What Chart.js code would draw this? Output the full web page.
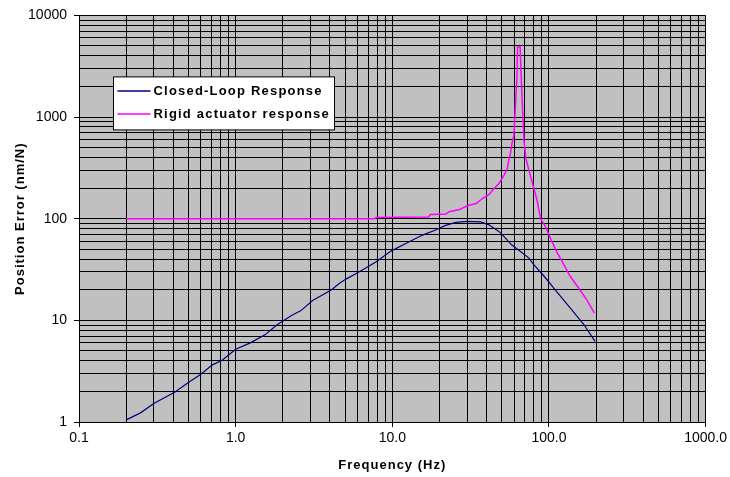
<!DOCTYPE html>
<html>
<head>
<meta charset="utf-8">
<script src="https://cdn.jsdelivr.net/npm/chart.js@4.4.1/dist/chart.umd.min.js"></script>
<style>
  html, body { margin: 0; padding: 0; background: #ffffff; }
  #wrap { width: 730px; height: 477px; }
</style>
</head>
<body>
<div id="wrap"><canvas id="c" width="730" height="477"></canvas></div>
<script>
// ---------------- data ----------------
const seriesNames = ['Closed-Loop Response', 'Rigid actuator response'];

const closedLoopFreq = [0.2, 0.247, 0.3, 0.41, 0.51, 0.6, 0.71, 0.82, 1.0, 1.24, 1.54, 1.83, 2.3, 2.6, 3.1, 4.1, 4.6, 5.1, 6.2, 7.9, 9.8, 12.2, 15.6, 18.9, 21.9, 25.4, 30, 36.6, 41.4, 49, 58, 64.3, 74.5, 80.5, 93.5, 112, 137, 167, 197];
const closedLoopValues = [1.05, 1.23, 1.52, 1.97, 2.5, 2.95, 3.65, 4.05, 5.2, 6.0, 7.2, 9.0, 11.3, 12.4, 15.7, 20.0, 23.2, 25.6, 30.3, 37.8, 48, 57, 69, 77.5, 86, 92, 94, 93, 87, 73, 55, 49, 41, 35, 27, 19.2, 13.2, 9.1, 6.2];

const rigidFreq = [0.2, 7.7, 7.9, 17, 17.5, 22, 23, 26.8, 30.4, 34.3, 37.6, 41.4, 44.6, 48, 51.7, 54.2, 55.6, 56.5, 58.3, 59.7, 61, 62.5, 63, 65.5, 66.5, 67.8, 69.3, 71.3, 76, 82.3, 84.3, 88.5, 95, 102, 112, 123, 137, 155, 174.5, 195];
const rigidValues = [100, 100, 103, 104, 110, 111, 117, 123, 135, 141, 158, 172, 198, 222, 268, 310, 388, 420, 565, 660, 1210, 2500, 4900, 4900, 2500, 1210, 590, 388, 268, 170, 147, 100, 83.5, 64.5, 47.5, 36.5, 27, 20.7, 15.9, 11.8];

const xTickValues = [0.1, 1, 10, 100, 1000];
const xTickLabels = ['0.1', '1.0', '10.0', '100.0', '1000.0'];
const yTickValues = [1, 10, 100, 1000, 10000];
const yTickLabels = ['1', '10', '100', '1000', '10000'];

const xTitle = 'Frequency (Hz)';
const yTitle = 'Position Error (nm/N)';

const seriesColors = ['#000080', '#FF00FF'];

// ---------------- helpers ----------------
function logGrid(majors) {
  const out = [];
  for (let i = 0; i < majors.length; i++) {
    out.push(majors[i]);
    if (i < majors.length - 1) {
      for (let k = 2; k <= 9; k++) out.push(majors[i] * k);
    }
  }
  return out;
}
function majorIndex(list, v) {
  return list.findIndex(t => Math.abs(t - v) / t < 1e-6);
}

const FONT = '"Liberation Sans", Arial, Helvetica, sans-serif';

const decorPlugin = {
  id: 'decor',
  beforeDraw(chart) {
    const { ctx, chartArea: a } = chart;
    ctx.save();
    ctx.fillStyle = '#ffffff';
    ctx.fillRect(0, 0, chart.width, chart.height);
    ctx.fillStyle = '#C0C0C0';
    ctx.fillRect(a.left, a.top, a.right - a.left, a.bottom - a.top);
    ctx.restore();
  },
  afterDraw(chart) {
    const { ctx, chartArea: a } = chart;
    // axis titles
    ctx.save();
    ctx.fillStyle = '#000';
    ctx.font = 'bold 13px ' + FONT;
    try { ctx.letterSpacing = '1px'; } catch (e) {}
    ctx.textAlign = 'center';
    ctx.textBaseline = 'middle';
    ctx.fillText(xTitle, (a.left + a.right) / 2, 465);
    ctx.translate(20, (a.top + a.bottom) / 2);
    ctx.rotate(-Math.PI / 2);
    ctx.fillText(yTitle, 0, 0);
    ctx.restore();

    // legend box
    ctx.save();
    const bx = a.left + 34.5, by = a.top + 61.5, bw = 221, bh = 53;
    ctx.fillStyle = '#ffffff';
    ctx.fillRect(bx, by, bw, bh);
    ctx.strokeStyle = '#000';
    ctx.lineWidth = 1;
    ctx.strokeRect(bx, by, bw, bh);
    ctx.font = 'bold 13px ' + FONT;
    try { ctx.letterSpacing = '1.2px'; } catch (e) {}
    ctx.textAlign = 'left';
    ctx.textBaseline = 'middle';
    const rows = [by + 14, by + 37];
    seriesNames.forEach((name, i) => {
      ctx.strokeStyle = chart.data.datasets[i].borderColor;
      ctx.lineWidth = 1.5;
      ctx.beginPath();
      ctx.moveTo(bx + 4, rows[i]);
      ctx.lineTo(bx + 37, rows[i]);
      ctx.stroke();
      ctx.fillStyle = '#000';
      ctx.fillText(name, bx + 40, rows[i] + 0.5);
    });
    ctx.restore();
  }
};

const ctx = document.getElementById('c').getContext('2d');
new Chart(ctx, {
  type: 'line',
  data: {
    datasets: [
      {
        label: seriesNames[0],
        data: closedLoopFreq.map((f, i) => ({ x: f, y: closedLoopValues[i] })),
        borderColor: seriesColors[0],
        borderWidth: 1.2,
        pointRadius: 0,
        tension: 0,
        fill: false
      },
      {
        label: seriesNames[1],
        data: rigidFreq.map((f, i) => ({ x: f, y: rigidValues[i] })),
        borderColor: seriesColors[1],
        borderWidth: 1.5,
        pointRadius: 0,
        tension: 0,
        fill: false
      }
    ]
  },
  options: {
    responsive: false,
    animation: false,
    devicePixelRatio: 1,
    layout: { padding: { left: 0, right: 23, top: 15, bottom: 0 } },
    plugins: { legend: { display: false }, tooltip: { enabled: false } },
    scales: {
      x: {
        type: 'logarithmic',
        min: 0.1,
        max: 1000,
        afterBuildTicks: (scale) => { scale.ticks = logGrid(xTickValues).map(v => ({ value: v })); },
        afterFit: (scale) => { scale.height = 55; },
        ticks: {
          autoSkip: false,
          maxRotation: 0,
          padding: 3,
          color: '#000',
          font: { family: FONT, size: 14 },
          callback: (v) => { const i = majorIndex(xTickValues, v); return i >= 0 ? xTickLabels[i] : ''; }
        },
        grid: {
          color: '#000',
          lineWidth: 1,
          tickLength: 5,
          tickColor: (c) => (c.tick && majorIndex(xTickValues, c.tick.value) >= 0) ? '#000' : 'rgba(0,0,0,0)'
        },
        border: { display: true, color: '#000', width: 1 },
        title: { display: false }
      },
      y: {
        type: 'logarithmic',
        min: 1,
        max: 10000,
        afterBuildTicks: (scale) => { scale.ticks = logGrid(yTickValues).map(v => ({ value: v })); },
        afterFit: (scale) => { scale.width = 79; },
        ticks: {
          autoSkip: false,
          padding: 7,
          color: '#000',
          font: { family: FONT, size: 14 },
          callback: (v) => { const i = majorIndex(yTickValues, v); return i >= 0 ? yTickLabels[i] : ''; }
        },
        grid: {
          color: '#000',
          lineWidth: 1,
          tickLength: 5,
          tickColor: (c) => (c.tick && majorIndex(yTickValues, c.tick.value) >= 0) ? '#000' : 'rgba(0,0,0,0)'
        },
        border: { display: true, color: '#000', width: 1 },
        title: { display: false }
      }
    }
  },
  plugins: [decorPlugin]
});
</script>
</body>
</html>
